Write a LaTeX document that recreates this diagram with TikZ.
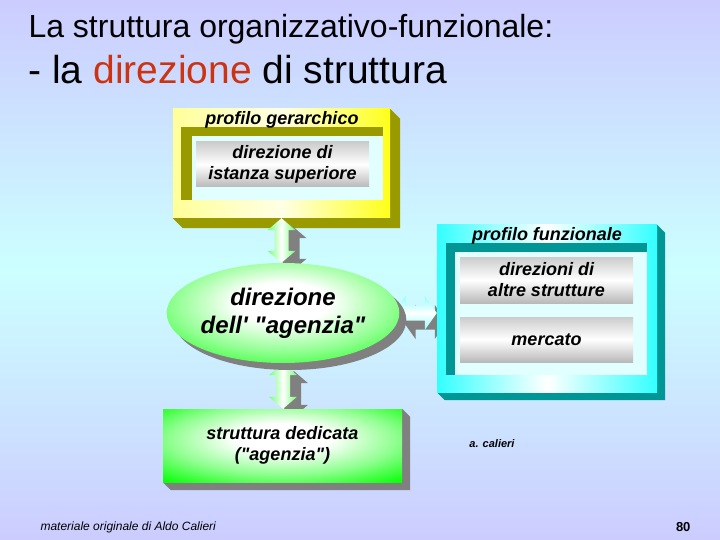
\documentclass[tikz,border=0pt]{standalone}
\usepackage{fontspec}
\setmainfont{Liberation Sans}
\usetikzlibrary{arrows.meta, positioning, shapes.geometric, shadows, calc}
\definecolor{lavender}{RGB}{204,204,255}
\definecolor{aqua}{RGB}{204,255,255}
\definecolor{rust}{RGB}{204,51,17}
\definecolor{darkolive}{RGB}{153,153,0}
\definecolor{darkteal}{RGB}{0,150,150}
\definecolor{paleaqua}{RGB}{225,255,255}
\definecolor{shadowgray}{RGB}{128,128,128}
\pgfdeclareradialshading{greenglow}{\pgfpoint{0bp}{6bp}}{color(0bp)=(white);
  color(10bp)=(white); color(24bp)=(green!45!white); color(38bp)=(green); color(75bp)=(green)}
\pgfdeclarelayer{back}
\pgfdeclarelayer{sides}
\pgfdeclarelayer{mid}
\pgfsetlayers{back,sides,mid,main}
\newcommand{\boxfont}{\fontsize{18}{21}\selectfont\bfseries\itshape}
\newcommand{\depthof}[3]{%
  \begin{pgfonlayer}{sides}
  \fill[#3] (#1.north east) -- ([shift={(#2,#2)}]#1.north east)
    -- ([shift={(#2,#2)}]#1.south east) -- ([shift={(#2,#2)}]#1.south west)
    -- (#1.south west) -- (#1.south east) -- cycle;
  \end{pgfonlayer}}
\newcommand{\vlink}[2]{%
  \fill[shadowgray, transform canvas={xshift=11pt, yshift=-8pt}] let \p1=(#1), \p2=(#2) in
    (\x1,\y1) -- (\x1+14pt,\y1-12pt) -- (\x1+7pt,\y1-12pt) -- (\x1+7pt,\y2+12pt)
    -- (\x1+14pt,\y2+12pt) -- (\x1,\y2) -- (\x1-14pt,\y2+12pt) -- (\x1-7pt,\y2+12pt)
    -- (\x1-7pt,\y1-12pt) -- (\x1-14pt,\y1-12pt) -- cycle;
  \shade[left color=green!55!white, right color=green!55!white, middle color=white]
    let \p1=(#1), \p2=(#2) in
    (\x1,\y1) -- (\x1+14pt,\y1-12pt) -- (\x1+7pt,\y1-12pt) -- (\x1+7pt,\y2+12pt)
    -- (\x1+14pt,\y2+12pt) -- (\x1,\y2) -- (\x1-14pt,\y2+12pt) -- (\x1-7pt,\y2+12pt)
    -- (\x1-7pt,\y1-12pt) -- (\x1-14pt,\y1-12pt) -- cycle;}
\newcommand{\hlink}[2]{%
  \fill[shadowgray, transform canvas={xshift=10pt, yshift=-9pt}] let \p1=(#1), \p2=(#2) in
    (\x1,\y1) -- (\x1+12pt,\y1+17pt) -- (\x1+12pt,\y1+7.5pt) -- (\x2-12pt,\y1+7.5pt)
    -- (\x2-12pt,\y1+17pt) -- (\x2,\y1) -- (\x2-12pt,\y1-17pt) -- (\x2-12pt,\y1-7.5pt)
    -- (\x1+12pt,\y1-7.5pt) -- (\x1+12pt,\y1-17pt) -- cycle;
  \shade[top color=cyan!45!white, bottom color=cyan!45!white, middle color=white]
    let \p1=(#1), \p2=(#2) in
    (\x1,\y1) -- (\x1+12pt,\y1+17pt) -- (\x1+12pt,\y1+7.5pt) -- (\x2-12pt,\y1+7.5pt)
    -- (\x2-12pt,\y1+17pt) -- (\x2,\y1) -- (\x2-12pt,\y1-17pt) -- (\x2-12pt,\y1-7.5pt)
    -- (\x1+12pt,\y1-7.5pt) -- (\x1+12pt,\y1-17pt) -- cycle;}

\begin{document}
\begin{tikzpicture}[x=1pt, y=-1pt, >=Stealth,
  outerbox/.style={rectangle, inner sep=0pt},
  graybox/.style={rectangle, inner sep=0pt, minimum width=173, top color=gray!40,
    bottom color=gray!55, middle color=white, font=\boxfont, align=center},
  boxtitle/.style={font=\boxfont}]

\begin{pgfonlayer}{back}
\shade[shading angle=45, top color=lavender, bottom color=lavender, middle color=aqua]
  (0,0) rectangle (720,540);
\end{pgfonlayer}
\useasboundingbox (0,0) rectangle (720,540);

\node[anchor=base west, font=\fontsize{32}{38}\selectfont] (title) at (25,38)
  {La struttura organizzativo-funzionale:};
\node[anchor=base west, font=\fontsize{39}{45}\selectfont] (subtitle) at (25,84)
  {- la \textcolor{rust}{direzione} di struttura};

\node[outerbox, minimum width=217, minimum height=109, left color=yellow!40!white,
  right color=yellow!90!white, middle color=yellow!10!white] (gerarchico) at (281.5,163.5) {};
\depthof{gerarchico}{10}{darkolive}
\fill[darkolive] (181,127) rectangle (383,200);
\fill[paleaqua] (192,136) rectangle (383,200);
\node[boxtitle] (gerTitle) at (282,120) {profilo gerarchico};
\node[graybox, minimum height=45] (istanza) at (282.5,164.5) {direzione di\\istanza superiore};
\depthof{istanza}{8}{gray}

\node[ellipse, minimum width=212, minimum height=100, inner sep=0pt, shade, shading=greenglow,
  drop shadow={shadow xshift=7pt, shadow yshift=-7pt, fill=shadowgray, opacity=1},
  font=\fontsize{24}{28}\selectfont\bfseries\itshape, align=center] (agenzia) at (283,313)
  {direzione\\dell\textquotesingle{} \textquotedbl agenzia\textquotedbl};

\node[outerbox, minimum width=239, minimum height=73, shade, shading=greenglow,
  font=\boxfont, align=center] (dedicata) at (282.5,445.5)
  {struttura dedicata\\(\textquotedbl agenzia\textquotedbl)};
\depthof{dedicata}{8}{shadowgray}

\node[outerbox, minimum width=220, minimum height=167, left color=cyan!80!white,
  right color=cyan!80!white, middle color=white] (funzionale) at (547,308.5) {};
\depthof{funzionale}{8}{darkteal}
\fill[darkteal] (446,243) rectangle (647,375);
\fill[paleaqua] (455,252) rectangle (647,375);
\node[boxtitle] (funTitle) at (547,236) {profilo funzionale};
\node[graybox, minimum height=46] (altre) at (546.5,280) {direzioni di\\altre strutture};
\depthof{altre}{9}{gray}
\node[graybox, minimum height=45] (mercato) at (546.5,339.5) {mercato};
\depthof{mercato}{9}{gray}

\begin{pgfonlayer}{mid}
\vlink{gerarchico.south}{agenzia.north}
\vlink{agenzia.south}{dedicata.north}
\hlink{[xshift=-6pt]agenzia.east}{agenzia.east -| funzionale.west}
\end{pgfonlayer}

\node[font=\fontsize{11}{13}\selectfont\bfseries\itshape] (autore) at (492,444) {a. calieri};
\node[anchor=base west, font=\fontsize{12}{14}\selectfont\itshape] (footer) at (37,530)
  {materiale originale di Aldo Calieri};
\node[anchor=base east, font=\fontsize{13}{15}\selectfont\bfseries] (pagina) at (694,531) {80};
\end{tikzpicture}
\end{document}
